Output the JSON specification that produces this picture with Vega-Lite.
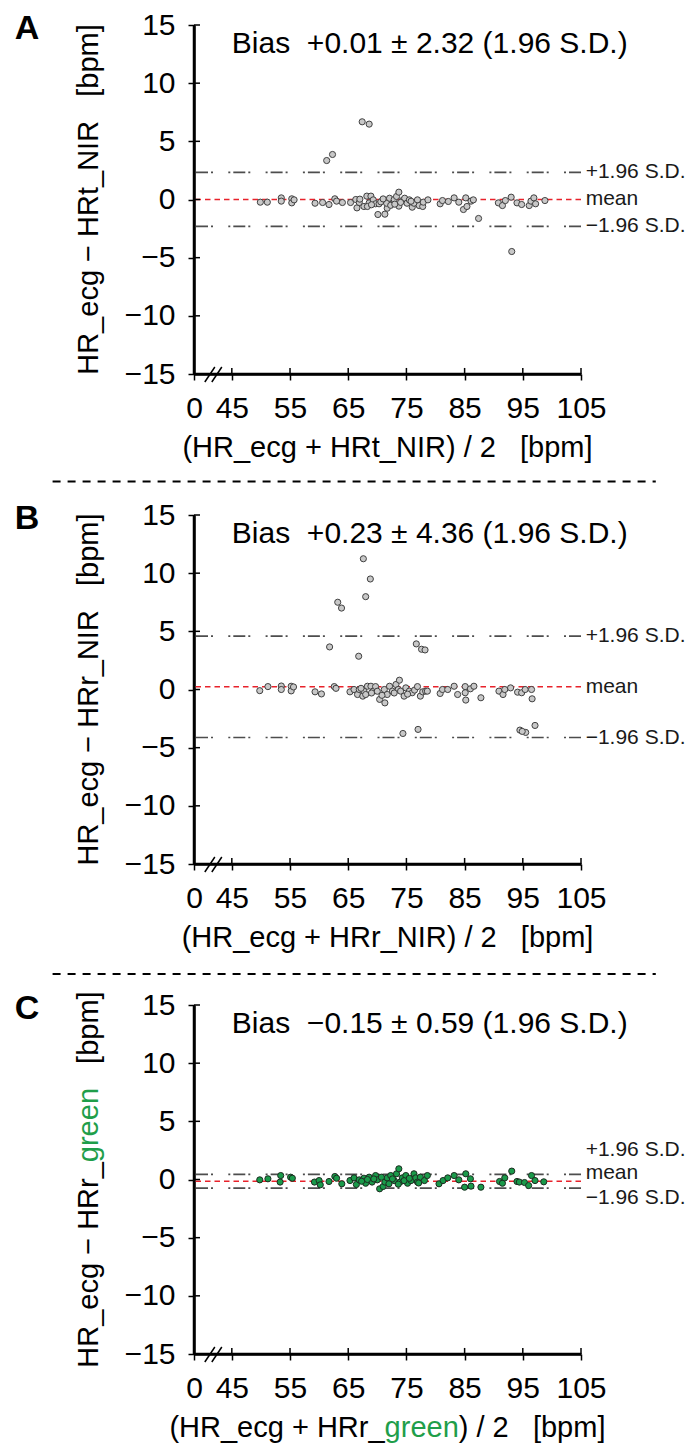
{
  "$schema": "https://vega.github.io/schema/vega-lite/v6.json",
  "padding": {"left": 14, "top": 10, "right": 5, "bottom": 5},
  "autosize": {"type": "pad"},
  "bounds": "flush",
  "spacing": 141,
  "config": {
    "view": {"stroke": null},
    "font": "Liberation Sans",
    "text": {"font": "Liberation Sans"},
    "axis": {"grid": false, "labelFont": "Liberation Sans", "labelColor": "black", "domainColor": "black", "tickColor": "black"}
  },
  "datasets": {
    "one": [{}],
    "xticks": [{"v": 38.5}, {"v": 45}, {"v": 55}, {"v": 65}, {"v": 75}, {"v": 85}, {"v": 95}, {"v": 105}],
    "yticks": [{"v": -15}, {"v": -10}, {"v": -5}, {"v": 0}, {"v": 5}, {"v": 10}, {"v": 15}],
    "A": [
      {"mean":67.4,"diff":6.68},{"mean":68.6,"diff":6.48},{"mean":61.3,"diff":3.35},{"mean":62.3,"diff":3.87},{"mean":93.1,"diff":-4.47},{"mean":87.4,"diff":-1.63},{"mean":70.1,"diff":-1.29},{"mean":71.3,"diff":-1.26},
      {"mean":49.9,"diff":-0.23},{"mean":51.1,"diff":-0.23},{"mean":53.5,"diff":0.14},{"mean":53.5,"diff":-0.14},{"mean":55.3,"diff":0.06},{"mean":55.3,"diff":-0.29},{"mean":55.7,"diff":-0.03},{"mean":59.3,"diff":-0.32},{"mean":60.6,"diff":-0.26},{"mean":61.7,"diff":-0.43},{"mean":62.7,"diff":0.06},{"mean":63.0,"diff":-0.14},{"mean":64.0,"diff":-0.26},{"mean":65.4,"diff":-0.26},{"mean":66.3,"diff":0.0},{"mean":66.5,"diff":-0.72},{"mean":66.9,"diff":-0.26},{"mean":67.7,"diff":-0.6},{"mean":68.2,"diff":0.29},{"mean":68.6,"diff":-0.29},{"mean":68.9,"diff":0.29},{"mean":68.3,"diff":-0.6},{"mean":69.3,"diff":-0.03},{"mean":69.7,"diff":-0.37},{"mean":70.3,"diff":-0.37},{"mean":70.9,"diff":-0.09},{"mean":71.7,"diff":-0.75},{"mean":71.6,"diff":-0.32},{"mean":72.1,"diff":0.11},{"mean":72.6,"diff":-0.37},{"mean":72.9,"diff":0.0},{"mean":73.3,"diff":0.26},{"mean":73.7,"diff":0.63},{"mean":73.7,"diff":-0.57},{"mean":74.3,"diff":-0.09},{"mean":74.7,"diff":0.11},{"mean":75.1,"diff":-0.32},{"mean":75.5,"diff":-0.03},{"mean":76.0,"diff":-0.66},{"mean":76.3,"diff":-0.32},{"mean":76.9,"diff":-0.03},{"mean":77.2,"diff":-0.52},{"mean":77.8,"diff":-0.6},{"mean":77.9,"diff":-0.23},{"mean":78.7,"diff":-0.03},{"mean":80.8,"diff":-0.37},{"mean":81.2,"diff":-0.09},{"mean":82.2,"diff":-0.17},{"mean":83.2,"diff":0.14},{"mean":84.0,"diff":-0.23},{"mean":84.8,"diff":-0.86},{"mean":85.2,"diff":0.14},{"mean":85.4,"diff":-0.6},{"mean":86.1,"diff":-0.14},{"mean":86.5,"diff":-0.03},{"mean":90.8,"diff":-0.29},{"mean":91.5,"diff":-0.52},{"mean":92.0,"diff":-0.09},{"mean":93.0,"diff":0.2},{"mean":94.0,"diff":-0.29},{"mean":94.8,"diff":-0.43},{"mean":96.1,"diff":-0.52},{"mean":96.4,"diff":-0.14},{"mean":96.9,"diff":0.14},{"mean":97.2,"diff":-0.37},{"mean":98.8,"diff":-0.09},
      {"mean":67.0,"diff":0.03},{"mean":69.0,"diff":-0.45},{"mean":70.6,"diff":-0.2},{"mean":71.0,"diff":0.05},{"mean":72.3,"diff":-0.5},{"mean":74.0,"diff":-0.25},{"mean":75.8,"diff":-0.15},{"mean":73.0,"diff":-0.4}
    ],
    "B": [
      {"mean":67.6,"diff":11.24},{"mean":68.8,"diff":9.5},{"mean":68.0,"diff":7.98},{"mean":63.2,"diff":7.5},{"mean":63.85,"diff":7.0},{"mean":61.8,"diff":3.66},{"mean":66.8,"diff":2.86},{"mean":76.7,"diff":3.92},{"mean":77.6,"diff":3.46},{"mean":78.2,"diff":3.4},{"mean":74.4,"diff":-3.78},{"mean":77.0,"diff":-3.43},{"mean":94.5,"diff":-3.49},{"mean":95.5,"diff":-3.69},{"mean":94.9,"diff":-3.6},{"mean":97.1,"diff":-3.09},
      {"mean":49.8,"diff":-0.1},{"mean":51.2,"diff":0.25},{"mean":53.5,"diff":0.3},{"mean":53.5,"diff":0.0},{"mean":55.2,"diff":0.28},{"mean":55.2,"diff":-0.12},{"mean":55.6,"diff":0.22},{"mean":59.3,"diff":-0.2},{"mean":60.4,"diff":-0.38},{"mean":62.6,"diff":0.25},{"mean":62.9,"diff":0.1},{"mean":65.3,"diff":-0.2},{"mean":66.0,"diff":0.0},{"mean":66.6,"diff":-0.43},{"mean":66.9,"diff":0.0},{"mean":67.5,"diff":-0.57},{"mean":67.7,"diff":-0.14},{"mean":68.0,"diff":-0.43},{"mean":68.3,"diff":0.28},{"mean":68.9,"diff":0.28},{"mean":69.3,"diff":-0.14},{"mean":69.7,"diff":0.25},{"mean":70.0,"diff":-0.15},{"mean":70.4,"diff":-0.85},{"mean":71.2,"diff":0.0},{"mean":71.3,"diff":-1.15},{"mean":71.7,"diff":-0.43},{"mean":72.1,"diff":0.28},{"mean":72.6,"diff":-0.14},{"mean":73.2,"diff":0.43},{"mean":73.8,"diff":0.8},{"mean":73.6,"diff":0.0},{"mean":74.0,"diff":-0.14},{"mean":74.6,"diff":-0.57},{"mean":74.9,"diff":0.14},{"mean":75.5,"diff":-0.14},{"mean":76.0,"diff":-0.28},{"mean":76.4,"diff":-0.05},{"mean":76.9,"diff":0.25},{"mean":77.4,"diff":-0.57},{"mean":77.8,"diff":-0.2},{"mean":78.3,"diff":-0.14},{"mean":78.6,"diff":-0.14},{"mean":80.8,"diff":-0.34},{"mean":81.2,"diff":0.0},{"mean":82.1,"diff":0.0},{"mean":83.2,"diff":0.28},{"mean":83.8,"diff":-0.43},{"mean":85.1,"diff":0.25},{"mean":85.1,"diff":-0.28},{"mean":85.2,"diff":-0.91},{"mean":86.0,"diff":0.06},{"mean":86.6,"diff":0.28},{"mean":87.8,"diff":-0.71},{"mean":90.9,"diff":-0.14},{"mean":91.6,"diff":-0.43},{"mean":91.9,"diff":0.0},{"mean":92.9,"diff":0.14},{"mean":94.1,"diff":-0.23},{"mean":94.8,"diff":-0.28},{"mean":95.4,"diff":0.0},{"mean":96.5,"diff":0.0},{"mean":96.6,"diff":-0.8},
      {"mean":67.2,"diff":0.1},{"mean":69.0,"diff":-0.3},{"mean":70.8,"diff":-0.5},{"mean":72.9,"diff":-0.3},{"mean":75.2,"diff":-0.4}
    ],
    "C": [
      {"mean":49.8,"diff":-0.03},{"mean":51.2,"diff":0.06},{"mean":53.4,"diff":0.34},{"mean":53.3,"diff":-0.22},{"mean":55.1,"diff":0.2},{"mean":55.4,"diff":0.11},{"mean":59.2,"diff":-0.22},{"mean":60.0,"diff":-0.09},{"mean":60.2,"diff":-0.46},{"mean":61.7,"diff":-0.17},{"mean":62.7,"diff":0.26},{"mean":63.0,"diff":0.11},{"mean":63.9,"diff":-0.37},{"mean":65.3,"diff":-0.09},{"mean":66.0,"diff":0.14},{"mean":66.4,"diff":-0.43},{"mean":66.9,"diff":-0.03},{"mean":67.7,"diff":0.11},{"mean":68.0,"diff":-0.32},{"mean":68.6,"diff":0.2},{"mean":69.1,"diff":-0.22},{"mean":69.7,"diff":0.34},{"mean":70.0,"diff":-0.03},{"mean":70.4,"diff":-0.8},{"mean":71.0,"diff":-0.6},{"mean":71.3,"diff":-0.22},{"mean":71.7,"diff":0.14},{"mean":72.0,"diff":-0.37},{"mean":72.3,"diff":0.34},{"mean":72.9,"diff":-0.09},{"mean":73.3,"diff":0.49},{"mean":73.7,"diff":0.92},{"mean":73.9,"diff":-0.22},{"mean":74.3,"diff":0.14},{"mean":74.9,"diff":0.34},{"mean":75.2,"diff":-0.32},{"mean":75.8,"diff":-0.09},{"mean":76.3,"diff":0.49},{"mean":76.6,"diff":0.14},{"mean":76.9,"diff":-0.22},{"mean":77.4,"diff":0.2},{"mean":78.1,"diff":-0.09},{"mean":78.6,"diff":0.34},{"mean":80.6,"diff":-0.37},{"mean":81.3,"diff":-0.09},{"mean":82.1,"diff":0.14},{"mean":83.2,"diff":0.34},{"mean":84.0,"diff":-0.03},{"mean":85.2,"diff":0.49},{"mean":85.0,"diff":-0.66},{"mean":86.0,"diff":0.06},{"mean":86.1,"diff":-0.57},{"mean":87.8,"diff":-0.66},{"mean":91.0,"diff":-0.17},{"mean":91.5,"diff":-0.32},{"mean":91.9,"diff":0.14},{"mean":93.1,"diff":0.72},{"mean":94.0,"diff":-0.17},{"mean":94.4,"diff":-0.22},{"mean":95.3,"diff":-0.26},{"mean":96.0,"diff":-0.52},{"mean":96.5,"diff":0.34},{"mean":97.1,"diff":-0.09},{"mean":98.6,"diff":-0.2},
      {"mean":67.3,"diff":-0.15},{"mean":68.3,"diff":0.0},{"mean":69.4,"diff":0.05},{"mean":70.7,"diff":0.2},{"mean":72.6,"diff":0.05},{"mean":73.6,"diff":-0.4},{"mean":74.6,"diff":-0.1},{"mean":75.5,"diff":0.1},{"mean":77.1,"diff":-0.3}
    ]
  },
  "vconcat": [
    {
      "width": 387, "height": 349,
      "layer": [
        {"data": {"name": "one"}, "mark": {"type": "rule", "color": "#4d4d4d", "strokeWidth": 1.6, "strokeDash": [12, 3, 2, 15.3, 2, 3]},
         "encoding": {
           "y": {"datum": 2.33, "type": "quantitative", "scale": {"domain": [-15, 15], "nice": false, "zero": false},
                 "axis": {"orient": "left", "title": null, "domain": true, "domainColor": "black", "domainWidth": 2.5, "values": [-15, -10, -5, 0, 5, 10, 15], "tickSize": 6, "tickWidth": 1.5, "labelFontSize": 30, "labelPadding": 13, "labelOverlap": false, "labelBound": false}}
         }},
        {"data": {"name": "one"}, "mark": {"type": "rule", "color": "#4d4d4d", "strokeWidth": 1.6, "strokeDash": [12, 3, 2, 15.3, 2, 3]}, "encoding": {"y": {"datum": -2.31, "type": "quantitative"}}},
        {"data": {"name": "one"}, "mark": {"type": "rule", "color": "#e8222b", "strokeWidth": 1.5, "strokeDash": [5.5, 4]}, "encoding": {"y": {"datum": 0.01, "type": "quantitative"}}},
        {"data": {"name": "A"}, "mark": {"type": "circle", "size": 38, "fill": "#c8c8c8", "stroke": "#404040", "strokeWidth": 1, "opacity": 1},
         "encoding": {
           "x": {"field": "mean", "type": "quantitative", "scale": {"domain": [38.5, 105], "nice": false, "zero": false},
                 "axis": {"orient": "bottom", "title": null, "domain": true, "domainColor": "black", "domainWidth": 2.5, "values": [38.5, 45, 55, 65, 75, 85, 95, 105], "labelExpr": "datum.value < 40 ? '0' : datum.label", "tickSize": 6, "tickWidth": 1.5, "labelFontSize": 30, "labelPadding": 13, "labelFlush": false, "labelOverlap": false, "labelBound": false}},
           "y": {"field": "diff", "type": "quantitative"}
         }},
        {"data": {"name": "one"}, "mark": {"type": "rule", "color": "black", "strokeWidth": 2.5}, "encoding": {"x": {"datum": 38.5, "type": "quantitative"}, "y": {"datum": -15, "type": "quantitative"}, "y2": {"datum": 15}}},
        {"data": {"name": "one"}, "mark": {"type": "rule", "color": "black", "strokeWidth": 2.5}, "encoding": {"x": {"datum": 38.5, "type": "quantitative"}, "x2": {"datum": 105}, "y": {"datum": -15, "type": "quantitative"}}},
        {"data": {"name": "xticks"}, "mark": {"type": "rule", "color": "black", "strokeWidth": 1.5}, "encoding": {"x": {"field": "v", "type": "quantitative"}, "y": {"datum": -15, "type": "quantitative"}, "y2": {"datum": -14.48}}},
        {"data": {"name": "yticks"}, "mark": {"type": "rule", "color": "black", "strokeWidth": 1.5}, "encoding": {"y": {"field": "v", "type": "quantitative"}, "x": {"datum": 38.5, "type": "quantitative"}, "x2": {"datum": 39.53}}},
        {"data": {"name": "one"}, "mark": {"type": "rule", "color": "black", "strokeWidth": 1.5}, "encoding": {"x": {"datum": 40.36, "type": "quantitative"}, "x2": {"datum": 42.08}, "y": {"datum": -15.69, "type": "quantitative"}, "y2": {"datum": -14.4}}},
        {"data": {"name": "one"}, "mark": {"type": "rule", "color": "black", "strokeWidth": 1.5}, "encoding": {"x": {"datum": 41.56, "type": "quantitative"}, "x2": {"datum": 43.28}, "y": {"datum": -15.69, "type": "quantitative"}, "y2": {"datum": -14.4}}},
        {"data": {"name": "one"}, "mark": {"type": "rule", "color": "black", "strokeWidth": 2, "strokeDash": [8, 7]}, "encoding": {"x": {"datum": 14.2, "type": "quantitative"}, "x2": {"datum": 117.85}, "y": {"datum": -24.25, "type": "quantitative"}}},
        {"data": {"name": "one"}, "mark": {"type": "text", "fontSize": 34, "fontWeight": "bold", "fill": "black", "align": "left", "baseline": "alphabetic"}, "encoding": {"x": {"datum": 7.71, "type": "quantitative"}, "y": {"datum": 13.8, "type": "quantitative"}, "text": {"value": "A"}}},
        {"data": {"name": "one"}, "mark": {"type": "text", "fontSize": 30, "fill": "black", "align": "left", "baseline": "alphabetic"}, "encoding": {"x": {"datum": 45.0, "type": "quantitative"}, "y": {"datum": 12.62, "type": "quantitative"}, "text": {"value": "Bias\u00a0\u00a0+0.01 ± 2.32 (1.96 S.D.)"}}},
        {"data": {"name": "one"}, "mark": {"type": "text", "fontSize": 21, "fill": "#1a1a1a", "align": "left", "baseline": "middle"}, "encoding": {"x": {"datum": 105.8, "type": "quantitative"}, "y": {"datum": 2.33, "type": "quantitative"}, "text": {"value": "+1.96 S.D."}}},
        {"data": {"name": "one"}, "mark": {"type": "text", "fontSize": 21, "fill": "#1a1a1a", "align": "left", "baseline": "middle"}, "encoding": {"x": {"datum": 105.8, "type": "quantitative"}, "y": {"datum": 0.01, "type": "quantitative"}, "text": {"value": "mean"}}},
        {"data": {"name": "one"}, "mark": {"type": "text", "fontSize": 21, "fill": "#1a1a1a", "align": "left", "baseline": "middle"}, "encoding": {"x": {"datum": 105.8, "type": "quantitative"}, "y": {"datum": -2.31, "type": "quantitative"}, "text": {"value": "−1.96 S.D."}}},
        {"data": {"name": "one"}, "mark": {"type": "text", "fontSize": 29, "fill": "black", "align": "center", "baseline": "alphabetic"}, "encoding": {"x": {"datum": 71.75, "type": "quantitative"}, "y": {"datum": -22.16, "type": "quantitative"}, "text": {"value": "(HR_ecg + HRt_NIR) / 2\u00a0\u00a0\u00a0[bpm]"}}},
        {"data": {"name": "one"}, "mark": {"type": "text", "fontSize": 29, "fill": "black", "align": "center", "baseline": "alphabetic", "angle": 270}, "encoding": {"x": {"datum": 21.98, "type": "quantitative"}, "y": {"datum": 0, "type": "quantitative"}, "text": {"value": "HR_ecg − HRt_NIR\u00a0\u00a0\u00a0[bpm]"}}}
      ]
    },
    {
      "width": 387, "height": 349,
      "layer": [
        {"data": {"name": "one"}, "mark": {"type": "rule", "color": "#4d4d4d", "strokeWidth": 1.6, "strokeDash": [12, 3, 2, 15.3, 2, 3]},
         "encoding": {
           "y": {"datum": 4.59, "type": "quantitative", "scale": {"domain": [-15, 15], "nice": false, "zero": false},
                 "axis": {"orient": "left", "title": null, "domain": true, "domainColor": "black", "domainWidth": 2.5, "values": [-15, -10, -5, 0, 5, 10, 15], "tickSize": 6, "tickWidth": 1.5, "labelFontSize": 30, "labelPadding": 13, "labelOverlap": false, "labelBound": false}}
         }},
        {"data": {"name": "one"}, "mark": {"type": "rule", "color": "#4d4d4d", "strokeWidth": 1.6, "strokeDash": [12, 3, 2, 15.3, 2, 3]}, "encoding": {"y": {"datum": -4.13, "type": "quantitative"}}},
        {"data": {"name": "one"}, "mark": {"type": "rule", "color": "#e8222b", "strokeWidth": 1.5, "strokeDash": [5.5, 4]}, "encoding": {"y": {"datum": 0.23, "type": "quantitative"}}},
        {"data": {"name": "B"}, "mark": {"type": "circle", "size": 38, "fill": "#c8c8c8", "stroke": "#404040", "strokeWidth": 1, "opacity": 1},
         "encoding": {
           "x": {"field": "mean", "type": "quantitative", "scale": {"domain": [38.5, 105], "nice": false, "zero": false},
                 "axis": {"orient": "bottom", "title": null, "domain": true, "domainColor": "black", "domainWidth": 2.5, "values": [38.5, 45, 55, 65, 75, 85, 95, 105], "labelExpr": "datum.value < 40 ? '0' : datum.label", "tickSize": 6, "tickWidth": 1.5, "labelFontSize": 30, "labelPadding": 13, "labelFlush": false, "labelOverlap": false, "labelBound": false}},
           "y": {"field": "diff", "type": "quantitative"}
         }},
        {"data": {"name": "one"}, "mark": {"type": "rule", "color": "black", "strokeWidth": 2.5}, "encoding": {"x": {"datum": 38.5, "type": "quantitative"}, "y": {"datum": -15, "type": "quantitative"}, "y2": {"datum": 15}}},
        {"data": {"name": "one"}, "mark": {"type": "rule", "color": "black", "strokeWidth": 2.5}, "encoding": {"x": {"datum": 38.5, "type": "quantitative"}, "x2": {"datum": 105}, "y": {"datum": -15, "type": "quantitative"}}},
        {"data": {"name": "xticks"}, "mark": {"type": "rule", "color": "black", "strokeWidth": 1.5}, "encoding": {"x": {"field": "v", "type": "quantitative"}, "y": {"datum": -15, "type": "quantitative"}, "y2": {"datum": -14.48}}},
        {"data": {"name": "yticks"}, "mark": {"type": "rule", "color": "black", "strokeWidth": 1.5}, "encoding": {"y": {"field": "v", "type": "quantitative"}, "x": {"datum": 38.5, "type": "quantitative"}, "x2": {"datum": 39.53}}},
        {"data": {"name": "one"}, "mark": {"type": "rule", "color": "black", "strokeWidth": 1.5}, "encoding": {"x": {"datum": 40.36, "type": "quantitative"}, "x2": {"datum": 42.08}, "y": {"datum": -15.69, "type": "quantitative"}, "y2": {"datum": -14.4}}},
        {"data": {"name": "one"}, "mark": {"type": "rule", "color": "black", "strokeWidth": 1.5}, "encoding": {"x": {"datum": 41.56, "type": "quantitative"}, "x2": {"datum": 43.28}, "y": {"datum": -15.69, "type": "quantitative"}, "y2": {"datum": -14.4}}},
        {"data": {"name": "one"}, "mark": {"type": "rule", "color": "black", "strokeWidth": 2, "strokeDash": [8, 7]}, "encoding": {"x": {"datum": 14.2, "type": "quantitative"}, "x2": {"datum": 117.85}, "y": {"datum": -24.46, "type": "quantitative"}}},
        {"data": {"name": "one"}, "mark": {"type": "text", "fontSize": 34, "fontWeight": "bold", "fill": "black", "align": "left", "baseline": "alphabetic"}, "encoding": {"x": {"datum": 7.71, "type": "quantitative"}, "y": {"datum": 13.8, "type": "quantitative"}, "text": {"value": "B"}}},
        {"data": {"name": "one"}, "mark": {"type": "text", "fontSize": 30, "fill": "black", "align": "left", "baseline": "alphabetic"}, "encoding": {"x": {"datum": 45.0, "type": "quantitative"}, "y": {"datum": 12.62, "type": "quantitative"}, "text": {"value": "Bias\u00a0\u00a0+0.23 ± 4.36 (1.96 S.D.)"}}},
        {"data": {"name": "one"}, "mark": {"type": "text", "fontSize": 21, "fill": "#1a1a1a", "align": "left", "baseline": "middle"}, "encoding": {"x": {"datum": 105.8, "type": "quantitative"}, "y": {"datum": 4.59, "type": "quantitative"}, "text": {"value": "+1.96 S.D."}}},
        {"data": {"name": "one"}, "mark": {"type": "text", "fontSize": 21, "fill": "#1a1a1a", "align": "left", "baseline": "middle"}, "encoding": {"x": {"datum": 105.8, "type": "quantitative"}, "y": {"datum": 0.23, "type": "quantitative"}, "text": {"value": "mean"}}},
        {"data": {"name": "one"}, "mark": {"type": "text", "fontSize": 21, "fill": "#1a1a1a", "align": "left", "baseline": "middle"}, "encoding": {"x": {"datum": 105.8, "type": "quantitative"}, "y": {"datum": -4.13, "type": "quantitative"}, "text": {"value": "−1.96 S.D."}}},
        {"data": {"name": "one"}, "mark": {"type": "text", "fontSize": 29, "fill": "black", "align": "center", "baseline": "alphabetic"}, "encoding": {"x": {"datum": 71.75, "type": "quantitative"}, "y": {"datum": -22.16, "type": "quantitative"}, "text": {"value": "(HR_ecg + HRr_NIR) / 2\u00a0\u00a0\u00a0[bpm]"}}},
        {"data": {"name": "one"}, "mark": {"type": "text", "fontSize": 29, "fill": "black", "align": "center", "baseline": "alphabetic", "angle": 270}, "encoding": {"x": {"datum": 21.98, "type": "quantitative"}, "y": {"datum": 0, "type": "quantitative"}, "text": {"value": "HR_ecg − HRr_NIR\u00a0\u00a0\u00a0[bpm]"}}}
      ]
    },
    {
      "width": 387, "height": 349,
      "layer": [
        {"data": {"name": "one"}, "mark": {"type": "rule", "color": "#4d4d4d", "strokeWidth": 1.6, "strokeDash": [12, 3, 2, 15.3, 2, 3]},
         "encoding": {
           "y": {"datum": 0.44, "type": "quantitative", "scale": {"domain": [-15, 15], "nice": false, "zero": false},
                 "axis": {"orient": "left", "title": null, "domain": true, "domainColor": "black", "domainWidth": 2.5, "values": [-15, -10, -5, 0, 5, 10, 15], "tickSize": 6, "tickWidth": 1.5, "labelFontSize": 30, "labelPadding": 13, "labelOverlap": false, "labelBound": false}}
         }},
        {"data": {"name": "one"}, "mark": {"type": "rule", "color": "#4d4d4d", "strokeWidth": 1.6, "strokeDash": [12, 3, 2, 15.3, 2, 3]}, "encoding": {"y": {"datum": -0.74, "type": "quantitative"}}},
        {"data": {"name": "one"}, "mark": {"type": "rule", "color": "#e8222b", "strokeWidth": 1.5, "strokeDash": [5.5, 4]}, "encoding": {"y": {"datum": -0.15, "type": "quantitative"}}},
        {"data": {"name": "C"}, "mark": {"type": "circle", "size": 38, "fill": "#1a9a4a", "stroke": "#1c2b20", "strokeWidth": 1, "opacity": 1},
         "encoding": {
           "x": {"field": "mean", "type": "quantitative", "scale": {"domain": [38.5, 105], "nice": false, "zero": false},
                 "axis": {"orient": "bottom", "title": null, "domain": true, "domainColor": "black", "domainWidth": 2.5, "values": [38.5, 45, 55, 65, 75, 85, 95, 105], "labelExpr": "datum.value < 40 ? '0' : datum.label", "tickSize": 6, "tickWidth": 1.5, "labelFontSize": 30, "labelPadding": 13, "labelFlush": false, "labelOverlap": false, "labelBound": false}},
           "y": {"field": "diff", "type": "quantitative"}
         }},
        {"data": {"name": "one"}, "mark": {"type": "rule", "color": "black", "strokeWidth": 2.5}, "encoding": {"x": {"datum": 38.5, "type": "quantitative"}, "y": {"datum": -15, "type": "quantitative"}, "y2": {"datum": 15}}},
        {"data": {"name": "one"}, "mark": {"type": "rule", "color": "black", "strokeWidth": 2.5}, "encoding": {"x": {"datum": 38.5, "type": "quantitative"}, "x2": {"datum": 105}, "y": {"datum": -15, "type": "quantitative"}}},
        {"data": {"name": "xticks"}, "mark": {"type": "rule", "color": "black", "strokeWidth": 1.5}, "encoding": {"x": {"field": "v", "type": "quantitative"}, "y": {"datum": -15, "type": "quantitative"}, "y2": {"datum": -14.48}}},
        {"data": {"name": "yticks"}, "mark": {"type": "rule", "color": "black", "strokeWidth": 1.5}, "encoding": {"y": {"field": "v", "type": "quantitative"}, "x": {"datum": 38.5, "type": "quantitative"}, "x2": {"datum": 39.53}}},
        {"data": {"name": "one"}, "mark": {"type": "rule", "color": "black", "strokeWidth": 1.5}, "encoding": {"x": {"datum": 40.36, "type": "quantitative"}, "x2": {"datum": 42.08}, "y": {"datum": -15.69, "type": "quantitative"}, "y2": {"datum": -14.4}}},
        {"data": {"name": "one"}, "mark": {"type": "rule", "color": "black", "strokeWidth": 1.5}, "encoding": {"x": {"datum": 41.56, "type": "quantitative"}, "x2": {"datum": 43.28}, "y": {"datum": -15.69, "type": "quantitative"}, "y2": {"datum": -14.4}}},
        {"data": {"name": "one"}, "mark": {"type": "text", "fontSize": 34, "fontWeight": "bold", "fill": "black", "align": "left", "baseline": "alphabetic"}, "encoding": {"x": {"datum": 7.71, "type": "quantitative"}, "y": {"datum": 13.8, "type": "quantitative"}, "text": {"value": "C"}}},
        {"data": {"name": "one"}, "mark": {"type": "text", "fontSize": 30, "fill": "black", "align": "left", "baseline": "alphabetic"}, "encoding": {"x": {"datum": 45.0, "type": "quantitative"}, "y": {"datum": 12.62, "type": "quantitative"}, "text": {"value": "Bias\u00a0\u00a0−0.15 ± 0.59 (1.96 S.D.)"}}},
        {"data": {"name": "one"}, "mark": {"type": "text", "fontSize": 21, "fill": "#1a1a1a", "align": "left", "baseline": "middle"}, "encoding": {"x": {"datum": 105.8, "type": "quantitative"}, "y": {"datum": 2.54, "type": "quantitative"}, "text": {"value": "+1.96 S.D."}}},
        {"data": {"name": "one"}, "mark": {"type": "text", "fontSize": 21, "fill": "#1a1a1a", "align": "left", "baseline": "middle"}, "encoding": {"x": {"datum": 105.8, "type": "quantitative"}, "y": {"datum": 0.56, "type": "quantitative"}, "text": {"value": "mean"}}},
        {"data": {"name": "one"}, "mark": {"type": "text", "fontSize": 21, "fill": "#1a1a1a", "align": "left", "baseline": "middle"}, "encoding": {"x": {"datum": 105.8, "type": "quantitative"}, "y": {"datum": -1.59, "type": "quantitative"}, "text": {"value": "−1.96 S.D."}}},
        {"data": {"name": "one"}, "mark": {"type": "text", "fontSize": 29, "fill": "black", "align": "right", "baseline": "alphabetic"}, "encoding": {"x": {"datum": 71.25, "type": "quantitative"}, "y": {"datum": -22.16, "type": "quantitative"}, "text": {"value": "(HR_ecg + HRr_"}}},
        {"data": {"name": "one"}, "mark": {"type": "text", "fontSize": 29, "fill": "#1f9e4a", "align": "left", "baseline": "alphabetic"}, "encoding": {"x": {"datum": 71.25, "type": "quantitative"}, "y": {"datum": -22.16, "type": "quantitative"}, "text": {"value": "green"}}},
        {"data": {"name": "one"}, "mark": {"type": "text", "fontSize": 29, "fill": "black", "align": "left", "baseline": "alphabetic"}, "encoding": {"x": {"datum": 84.0, "type": "quantitative"}, "y": {"datum": -22.16, "type": "quantitative"}, "text": {"value": ") / 2\u00a0\u00a0\u00a0[bpm]"}}},
        {"data": {"name": "one"}, "mark": {"type": "text", "fontSize": 29, "fill": "black", "align": "right", "baseline": "alphabetic", "angle": 270}, "encoding": {"x": {"datum": 21.98, "type": "quantitative"}, "y": {"datum": 1.49, "type": "quantitative"}, "text": {"value": "HR_ecg − HRr_"}}},
        {"data": {"name": "one"}, "mark": {"type": "text", "fontSize": 29, "fill": "#1f9e4a", "align": "left", "baseline": "alphabetic", "angle": 270}, "encoding": {"x": {"datum": 21.98, "type": "quantitative"}, "y": {"datum": 1.49, "type": "quantitative"}, "text": {"value": "green"}}},
        {"data": {"name": "one"}, "mark": {"type": "text", "fontSize": 29, "fill": "black", "align": "right", "baseline": "alphabetic", "angle": 270}, "encoding": {"x": {"datum": 21.98, "type": "quantitative"}, "y": {"datum": 16.17, "type": "quantitative"}, "text": {"value": "[bpm]"}}}
      ]
    }
  ]
}
